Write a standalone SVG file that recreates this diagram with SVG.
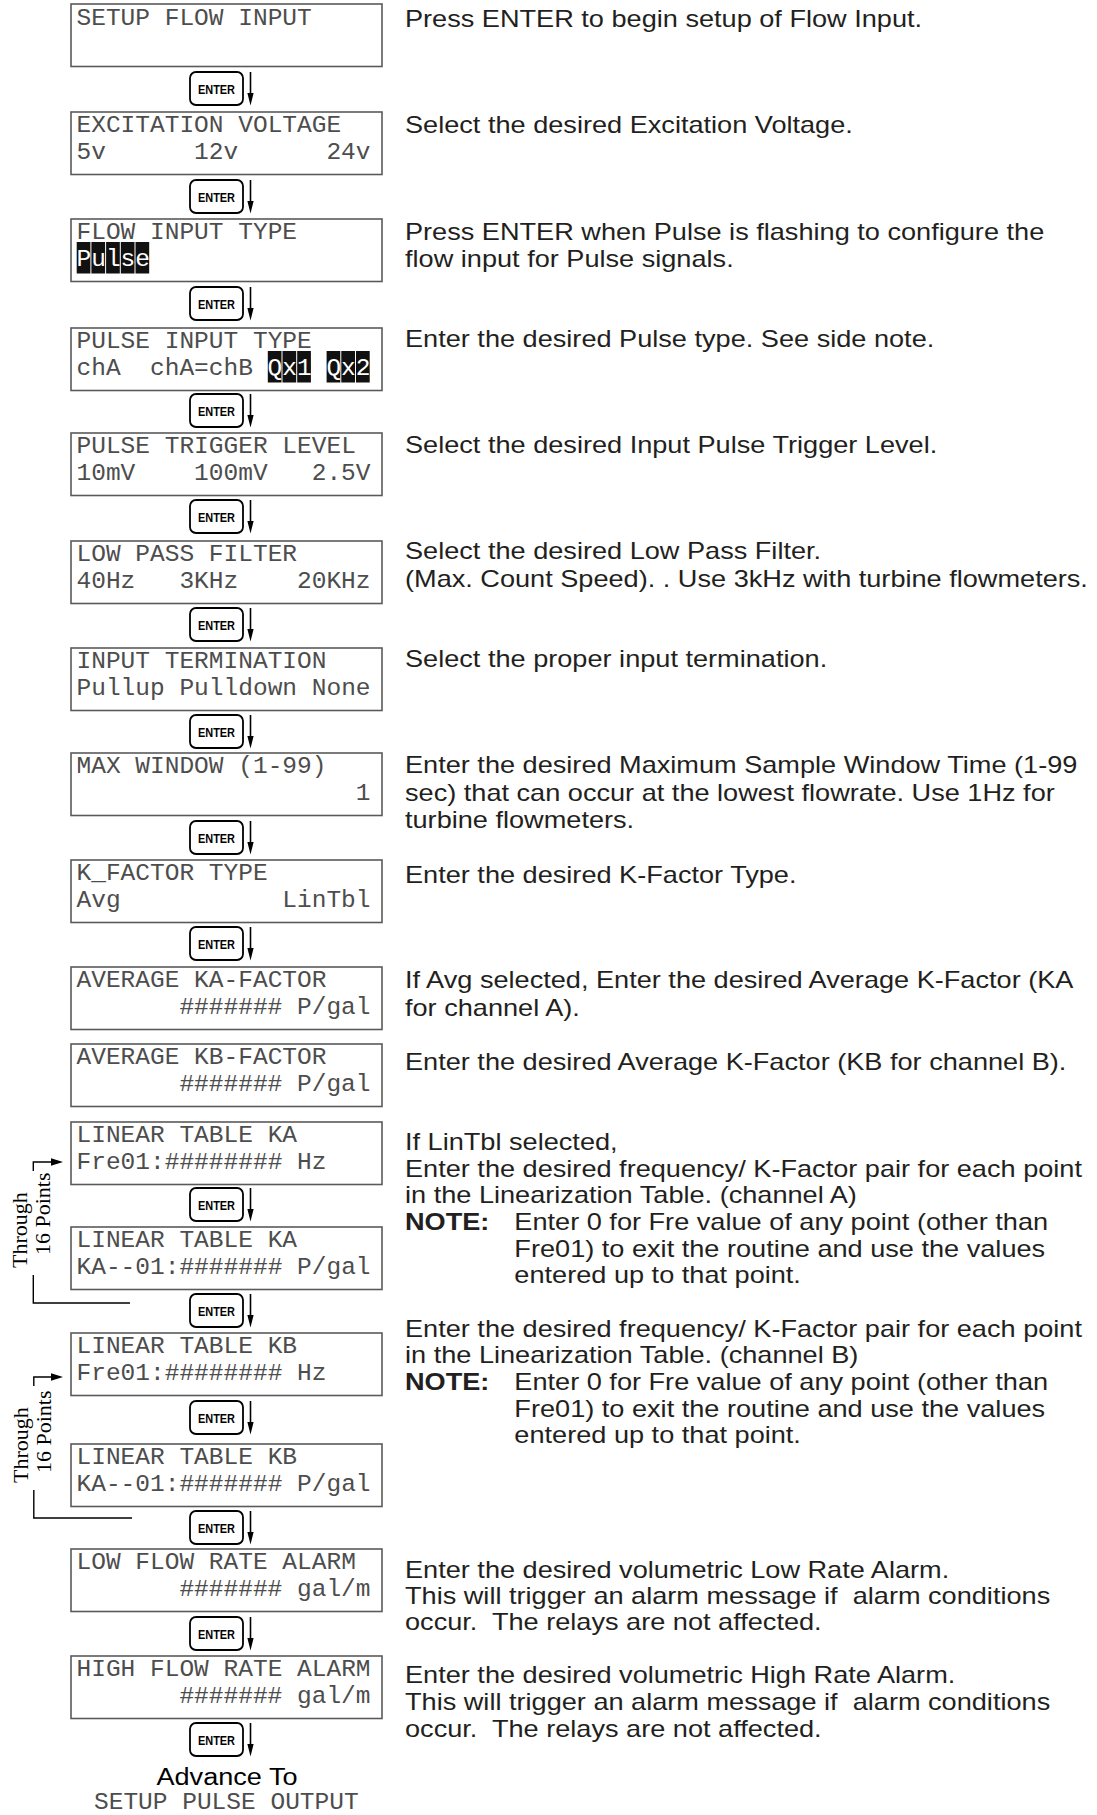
<svg xmlns="http://www.w3.org/2000/svg" xmlns:xlink="http://www.w3.org/1999/xlink" width="1097" height="1815" viewBox="0 0 1097 1815">
<style>
.box{fill:#fff;stroke:#5a5a5a;stroke-width:1.6}
.lcd{font-family:"Liberation Mono","DejaVu Sans Mono",monospace;font-size:24.5px;fill:#4d4d4d}
.inv{fill:#fff}
.cell{fill:#111}
.desc{font-family:"Liberation Sans",Arial,sans-serif;font-size:23px;fill:#231f20}
.b{font-weight:bold}
.btn{fill:#fff;stroke:#000;stroke-width:1.8}
.btnt{font-family:"Liberation Sans",Arial,sans-serif;font-weight:bold;font-size:12.5px;text-anchor:middle;fill:#000}
.ln{fill:none;stroke:#000;stroke-width:1.6}
.ah{fill:#000}
.loop{fill:none;stroke:#000;stroke-width:1.4}
.serif{font-family:"Liberation Serif","Times New Roman",serif;font-size:22px;fill:#000}
.adv{font-family:"Liberation Sans",Arial,sans-serif;font-size:23px;fill:#000;text-anchor:middle}
</style>
<defs>
<g id="enterBtn">
<rect class="btn" x="190" y="0" width="53" height="33" rx="6"/>
<text class="btnt" x="216.5" y="21.5" textLength="37" lengthAdjust="spacingAndGlyphs">ENTER</text>
<line class="ln" x1="250.5" y1="0" x2="250.5" y2="24"/>
<polygon class="ah" points="247.4,21 253.6,21 250.5,33.5"/>
</g>
</defs>
<rect width="1097" height="1815" fill="#fff"/>

<g id="connectors">
<use xlink:href="#enterBtn" y="72"/>
<use xlink:href="#enterBtn" y="180"/>
<use xlink:href="#enterBtn" y="287"/>
<use xlink:href="#enterBtn" y="394"/>
<use xlink:href="#enterBtn" y="500"/>
<use xlink:href="#enterBtn" y="608"/>
<use xlink:href="#enterBtn" y="715"/>
<use xlink:href="#enterBtn" y="821"/>
<use xlink:href="#enterBtn" y="927"/>
<use xlink:href="#enterBtn" y="1188"/>
<use xlink:href="#enterBtn" y="1294"/>
<use xlink:href="#enterBtn" y="1401"/>
<use xlink:href="#enterBtn" y="1511"/>
<use xlink:href="#enterBtn" y="1617"/>
<use xlink:href="#enterBtn" y="1723"/>
<g id="loopA">
<path class="loop" d="M60,1162 H33.3 V1171 M33.3,1275 V1303 H130"/>
<polygon class="ah" points="63,1162 51,1158.3 51,1165.7"/>
<text class="serif" transform="translate(27,1268) rotate(-90)">Through</text>
<text class="serif" transform="translate(50,1255) rotate(-90)">16 Points</text>
</g>
<g id="loopB">
<path class="loop" d="M60,1377 H33.8 V1386 M33.8,1490 V1518 H132"/>
<polygon class="ah" points="63,1377 51,1373.3 51,1380.7"/>
<text class="serif" transform="translate(27.5,1483) rotate(-90)">Through</text>
<text class="serif" transform="translate(50.5,1473) rotate(-90)">16 Points</text>
</g>
</g>

<g id="n1"><rect class="box" x="71" y="4" width="311" height="62.5"/>
<text class="lcd" x="76.5" y="25">SETUP FLOW INPUT</text></g>

<g id="n2"><rect class="box" x="71" y="112" width="311" height="62.5"/>
<text class="lcd" x="76.5" y="132">EXCITATION VOLTAGE</text>
<text class="lcd" y="158.5"><tspan x="76.5">5v</tspan><tspan x="194.1">12v</tspan><tspan x="326.4">24v</tspan></text></g>

<g id="n3"><rect class="box" x="71" y="219" width="311" height="62.5"/>
<text class="lcd" x="76.5" y="239">FLOW INPUT TYPE</text>
<rect class="cell" x="76.7" y="242" width="13.7" height="31.5"/>
<rect class="cell" x="91.4" y="242" width="13.7" height="31.5"/>
<rect class="cell" x="106.1" y="242" width="13.7" height="31.5"/>
<rect class="cell" x="120.8" y="242" width="13.7" height="31.5"/>
<rect class="cell" x="135.5" y="242" width="13.7" height="31.5"/>
<text class="lcd inv" x="76.5" y="265.5">Pulse</text></g>

<g id="n4"><rect class="box" x="71" y="328" width="311" height="62.5"/>
<text class="lcd" x="76.5" y="348">PULSE INPUT TYPE</text>
<rect class="cell" x="267.8" y="351" width="13.7" height="31.5"/>
<rect class="cell" x="282.5" y="351" width="13.7" height="31.5"/>
<rect class="cell" x="297.2" y="351" width="13.7" height="31.5"/>
<rect class="cell" x="326.6" y="351" width="13.7" height="31.5"/>
<rect class="cell" x="341.3" y="351" width="13.7" height="31.5"/>
<rect class="cell" x="356" y="351" width="13.7" height="31.5"/>
<text class="lcd" y="374.5"><tspan x="76.5">chA</tspan><tspan x="150">chA=chB</tspan></text>
<text class="lcd inv" y="374.5"><tspan x="267.6">Qx1</tspan><tspan x="326.4">Qx2</tspan></text></g>

<g id="n5"><rect class="box" x="71" y="433" width="311" height="62.5"/>
<text class="lcd" x="76.5" y="453">PULSE TRIGGER LEVEL</text>
<text class="lcd" y="479.5"><tspan x="76.5">10mV</tspan><tspan x="194.1">100mV</tspan><tspan x="311.7">2.5V</tspan></text></g>

<g id="n6"><rect class="box" x="71" y="541" width="311" height="62.5"/>
<text class="lcd" x="76.5" y="561">LOW PASS FILTER</text>
<text class="lcd" y="587.5"><tspan x="76.5">40Hz</tspan><tspan x="179.4">3KHz</tspan><tspan x="297">20KHz</tspan></text></g>

<g id="n7"><rect class="box" x="71" y="648" width="311" height="62.5"/>
<text class="lcd" x="76.5" y="668">INPUT TERMINATION</text>
<text class="lcd" x="76.5" y="694.5">Pullup Pulldown None</text></g>

<g id="n8"><rect class="box" x="71" y="753" width="311" height="62.5"/>
<text class="lcd" x="76.5" y="773">MAX WINDOW (1-99)</text>
<text class="lcd" x="355.8" y="799.5">1</text></g>

<g id="n9"><rect class="box" x="71" y="860" width="311" height="62.5"/>
<text class="lcd" x="76.5" y="880">K_FACTOR TYPE</text>
<text class="lcd" y="906.5"><tspan x="76.5">Avg</tspan><tspan x="282.3">LinTbl</tspan></text></g>

<g id="n10"><rect class="box" x="71" y="967" width="311" height="62.5"/>
<text class="lcd" x="76.5" y="987">AVERAGE KA-FACTOR</text>
<text class="lcd" x="179.4" y="1013.5">####### P/gal</text></g>

<g id="n11"><rect class="box" x="71" y="1044" width="311" height="62.5"/>
<text class="lcd" x="76.5" y="1064">AVERAGE KB-FACTOR</text>
<text class="lcd" x="179.4" y="1090.5">####### P/gal</text></g>

<g id="n12"><rect class="box" x="71" y="1122" width="311" height="62.5"/>
<text class="lcd" x="76.5" y="1142">LINEAR TABLE KA</text>
<text class="lcd" x="76.5" y="1168.5">Fre01:######## Hz</text></g>

<g id="n13"><rect class="box" x="71" y="1227" width="311" height="62.5"/>
<text class="lcd" x="76.5" y="1247">LINEAR TABLE KA</text>
<text class="lcd" x="76.5" y="1273.5">KA--01:####### P/gal</text></g>

<g id="n14"><rect class="box" x="71" y="1333" width="311" height="62.5"/>
<text class="lcd" x="76.5" y="1353">LINEAR TABLE KB</text>
<text class="lcd" x="76.5" y="1379.5">Fre01:######## Hz</text></g>

<g id="n15"><rect class="box" x="71" y="1444" width="311" height="62.5"/>
<text class="lcd" x="76.5" y="1464">LINEAR TABLE KB</text>
<text class="lcd" x="76.5" y="1490.5">KA--01:####### P/gal</text></g>

<g id="n16"><rect class="box" x="71" y="1549" width="311" height="62.5"/>
<text class="lcd" x="76.5" y="1569">LOW FLOW RATE ALARM</text>
<text class="lcd" x="179.4" y="1595.5">####### gal/m</text></g>

<g id="n17"><rect class="box" x="71" y="1656" width="311" height="62.5"/>
<text class="lcd" x="76.5" y="1676">HIGH FLOW RATE ALARM</text>
<text class="lcd" x="179.4" y="1702.5">####### gal/m</text></g>

<g id="advance">
<text class="adv" x="227" y="1785" textLength="141" lengthAdjust="spacingAndGlyphs">Advance To</text>
<text class="lcd" x="94" y="1809">SETUP PULSE OUTPUT</text>
</g>

<g id="descriptions" class="desc" transform="translate(405,0) scale(1.18,1)">
<text x="0" y="27">Press ENTER to begin setup of Flow Input.</text>
<text x="0" y="133">Select the desired Excitation Voltage.</text>
<text x="0" y="240">Press ENTER when Pulse is flashing to configure the</text>
<text x="0" y="267">flow input for Pulse signals.</text>
<text x="0" y="347">Enter the desired Pulse type. See side note.</text>
<text x="0" y="453">Select the desired Input Pulse Trigger Level.</text>
<text x="0" y="559">Select the desired Low Pass Filter.</text>
<text x="0" y="587">(Max. Count Speed). . Use 3kHz with turbine flowmeters.</text>
<text x="0" y="667">Select the proper input termination.</text>
<text x="0" y="773">Enter the desired Maximum Sample Window Time (1-99</text>
<text x="0" y="801">sec) that can occur at the lowest flowrate. Use 1Hz for</text>
<text x="0" y="828">turbine flowmeters.</text>
<text x="0" y="883">Enter the desired K-Factor Type.</text>
<text x="0" y="988">If Avg selected, Enter the desired Average K-Factor (KA</text>
<text x="0" y="1016">for channel A).</text>
<text x="0" y="1070">Enter the desired Average K-Factor (KB for channel B).</text>
<text x="0" y="1150">If LinTbl selected,</text>
<text x="0" y="1177">Enter the desired frequency/ K-Factor pair for each point</text>
<text x="0" y="1203">in the Linearization Table. (channel A)</text>
<text x="0" y="1230"><tspan class="b">NOTE:</tspan><tspan x="92.7">Enter 0 for Fre value of any point (other than</tspan></text>
<text x="92.7" y="1257">Fre01) to exit the routine and use the values</text>
<text x="92.7" y="1283">entered up to that point.</text>
<text x="0" y="1337">Enter the desired frequency/ K-Factor pair for each point</text>
<text x="0" y="1363">in the Linearization Table. (channel B)</text>
<text x="0" y="1390"><tspan class="b">NOTE:</tspan><tspan x="92.7">Enter 0 for Fre value of any point (other than</tspan></text>
<text x="92.7" y="1417">Fre01) to exit the routine and use the values</text>
<text x="92.7" y="1443">entered up to that point.</text>
<text x="0" y="1578">Enter the desired volumetric Low Rate Alarm.</text>
<text x="0" y="1604" xml:space="preserve">This will trigger an alarm message if  alarm conditions</text>
<text x="0" y="1630" xml:space="preserve">occur.  The relays are not affected.</text>
<text x="0" y="1683">Enter the desired volumetric High Rate Alarm.</text>
<text x="0" y="1710" xml:space="preserve">This will trigger an alarm message if  alarm conditions</text>
<text x="0" y="1737" xml:space="preserve">occur.  The relays are not affected.</text>
</g>
</svg>
